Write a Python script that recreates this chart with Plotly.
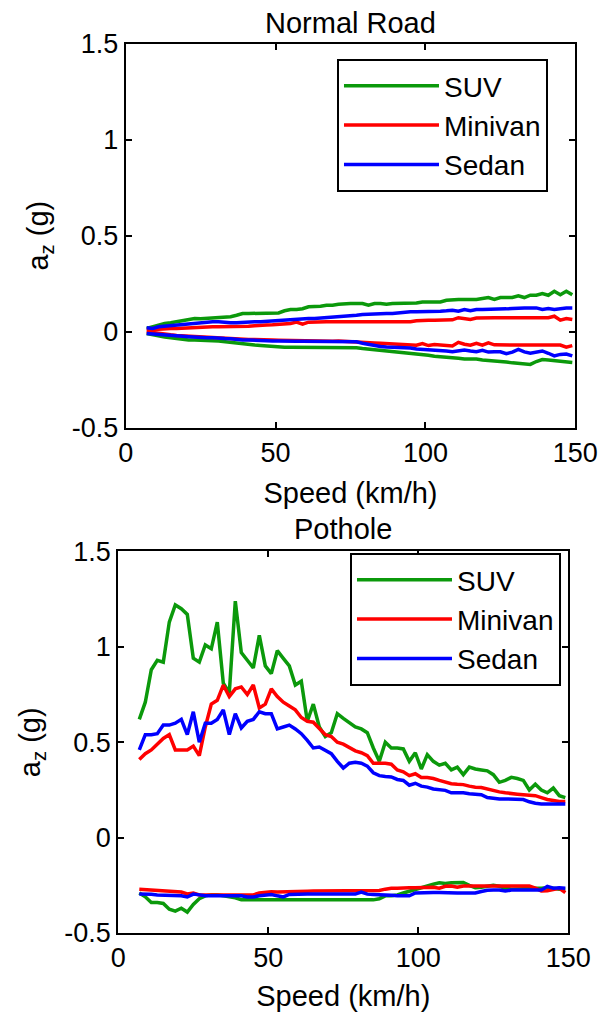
import plotly.graph_objects as go

# speed grid (km/h), shared by every curve
speed = [7, 9, 11, 13, 15, 17, 19, 21, 23, 25,
         27, 29, 31, 33, 35, 37, 39, 41, 43, 45,
         47, 49, 51, 53, 55, 57, 59, 61, 63, 65,
         67, 69, 71, 73, 75, 77, 79, 81, 83, 85,
         87, 89, 91, 93, 95, 97, 99, 101, 103, 105,
         107, 109, 111, 113, 115, 117, 119, 121, 123, 125,
         127, 129, 131, 133, 135, 137, 139, 141, 143, 145,
         147, 149]

# ---- Normal Road: max / min vertical acceleration (g)
normal_suv_max = [.017, .026, .035, .043, .047, .052, .060, .064, .069, .067,
                  .069, .074, .074, .074, .078, .086, .095, .095, .095, .095,
                  .095, .095, .098, .109, .116, .116, .120, .130, .130, .133,
                  .138, .138, .143, .147, .147, .147, .147, .138, .147, .147,
                  .143, .147, .147, .147, .147, .150, .155, .155, .155, .155,
                  .164, .168, .168, .168, .168, .168, .173, .178, .168, .178,
                  .178, .178, .187, .178, .190, .190, .199, .190, .211, .193,
                  .211, .193]
normal_suv_min = [-.009, -.016, -.022, -.028, -.031, -.035, -.040, -.043, -.043, -.043,
                  -.043, -.047, -.048, -.052, -.054, -.057, -.060, -.064, -.069, -.071,
                  -.074, -.078, -.081, -.081, -.081, -.081, -.081, -.081, -.081, -.081,
                  -.081, -.081, -.080, -.080, -.081, -.083, -.087, -.090, -.092, -.095,
                  -.097, -.100, -.103, -.107, -.110, -.114, -.118, -.122, -.128, -.130,
                  -.130, -.133, -.138, -.142, -.141, -.142, -.147, -.149, -.152, -.155,
                  -.158, -.162, -.165, -.168, -.170, -.155, -.145, -.147, -.150, -.155,
                  -.157, -.160]
normal_minivan_max = [.009, .012, .014, .016, .017, .017, .019, .021, .022, .022,
                      .024, .026, .026, .026, .026, .026, .026, .028, .031, .035,
                      .035, .036, .038, .040, .043, .050, .040, .050, .052, .052,
                      .052, .052, .052, .052, .052, .052, .052, .052, .052, .052,
                      .052, .052, .052, .052, .052, .057, .060, .060, .060, .060,
                      .060, .062, .073, .068, .064, .071, .073, .073, .073, .073,
                      .073, .073, .073, .073, .073, .073, .073, .073, .081, .060,
                      .069, .064]
normal_minivan_min = [.000, -.005, -.009, -.012, -.016, -.019, -.021, -.024, -.026, -.027,
                      -.029, -.030, -.031, -.033, -.035, -.036, -.038, -.040, -.041, -.043,
                      -.043, -.043, -.044, -.045, -.045, -.045, -.046, -.046, -.047, -.048,
                      -.049, -.050, -.048, -.049, -.050, -.052, -.054, -.056, -.058, -.060,
                      -.062, -.064, -.066, -.068, -.069, -.070, -.062, -.072, -.066, -.070,
                      -.074, -.074, -.055, -.065, -.070, -.060, -.070, -.058, -.068, -.069,
                      -.069, -.069, -.069, -.069, -.069, -.069, -.069, -.069, -.069, -.069,
                      -.080, -.072]
normal_sedan_max = [.021, .017, .026, .029, .031, .035, .038, .043, .043, .047,
                    .048, .052, .052, .048, .047, .047, .050, .052, .052, .052,
                    .054, .057, .060, .064, .066, .066, .067, .069, .069, .071,
                    .074, .074, .076, .078, .081, .086, .090, .092, .095, .095,
                    .095, .095, .098, .104, .104, .104, .104, .104, .104, .107,
                    .109, .112, .107, .116, .109, .116, .116, .116, .116, .117,
                    .119, .121, .124, .124, .124, .124, .116, .121, .116, .121,
                    .124, .124]
normal_sedan_min = [-.009, -.012, -.016, -.019, -.021, -.022, -.024, -.026, -.029, -.031,
                    -.031, -.031, -.035, -.035, -.036, -.040, -.043, -.043, -.045, -.047,
                    -.048, -.048, -.048, -.050, -.050, -.050, -.050, -.050, -.049, -.049,
                    -.048, -.048, -.048, -.048, -.048, -.052, -.060, -.066, -.074, -.077,
                    -.080, -.081, -.081, -.081, -.085, -.090, -.092, -.093, -.094, -.095,
                    -.100, -.104, -.099, -.095, -.100, -.104, -.097, -.106, -.104, -.104,
                    -.114, -.106, -.092, -.105, -.112, -.104, -.100, -.112, -.126, -.118,
                    -.116, -.126]

# ---- Pothole: max / min vertical acceleration (g)
pothole_suv_max = [.62, .71, .88, .93, .92, 1.13, 1.22, 1.20, 1.17, .94,
                   .92, 1.01, .99, 1.13, .81, .76, 1.24, .97, .93, .89,
                   1.06, .90, .86, .98, .94, .90, .80, .82, .61, .70,
                   .58, .53, .55, .65, .625, .60, .58, .57, .55, .47,
                   .40, .50, .47, .47, .465, .40, .445, .36, .435, .40,
                   .38, .39, .355, .37, .33, .37, .36, .355, .35, .33,
                   .29, .30, .316, .31, .30, .25, .28, .25, .235, .26,
                   .22, .21]
pothole_suv_min = [-.29, -.31, -.34, -.34, -.345, -.375, -.385, -.37, -.39, -.35,
                   -.32, -.305, -.30, -.30, -.305, -.31, -.315, -.325, -.326, -.326,
                   -.326, -.326, -.326, -.326, -.326, -.326, -.326, -.326, -.326, -.326,
                   -.326, -.326, -.326, -.326, -.326, -.326, -.326, -.326, -.326, -.326,
                   -.32, -.305, -.305, -.30, -.29, -.28, -.27, -.26, -.25, -.244,
                   -.237, -.24, -.237, -.235, -.235, -.25, -.262, -.26, -.255, -.25,
                   -.255, -.265, -.27, -.268, -.265, -.265, -.265, -.265, -.262, -.265,
                   -.27, -.27]
pothole_minivan_max = [.41, .44, .46, .49, .52, .54, .46, .46, .46, .48,
                       .43, .58, .70, .72, .80, .74, .78, .79, .75, .80,
                       .68, .70, .78, .74, .71, .69, .67, .63, .61, .605,
                       .57, .54, .53, .50, .49, .47, .455, .445, .43, .39,
                       .39, .39, .385, .355, .345, .325, .335, .315, .315, .31,
                       .30, .29, .283, .28, .278, .27, .264, .263, .255, .245,
                       .24, .235, .23, .228, .225, .222, .22, .21, .20, .195,
                       .19, .19]
pothole_minivan_min = [-.27, -.272, -.275, -.275, -.277, -.278, -.28, -.285, -.295, -.29,
                       -.30, -.30, -.30, -.30, -.30, -.30, -.30, -.30, -.30, -.30,
                       -.29, -.285, -.283, -.285, -.285, -.285, -.283, -.282, -.281, -.28,
                       -.28, -.28, -.28, -.279, -.279, -.279, -.279, -.278, -.278, -.277,
                       -.277, -.27, -.265, -.265, -.262, -.262, -.262, -.262, -.26, -.26,
                       -.265, -.255, -.253, -.26, -.253, -.253, -.253, -.253, -.253, -.253,
                       -.253, -.253, -.253, -.253, -.253, -.253, -.265, -.279, -.278, -.272,
                       -.266, -.288]
pothole_sedan_max = [.46, .54, .54, .545, .59, .59, .60, .62, .54, .66,
                     .50, .60, .60, .62, .67, .54, .65, .575, .61, .62,
                     .66, .65, .65, .57, .58, .59, .57, .545, .51, .47,
                     .475, .46, .44, .40, .365, .39, .395, .39, .375, .34,
                     .325, .32, .318, .305, .30, .275, .285, .27, .265, .255,
                     .25, .248, .235, .235, .235, .23, .228, .225, .21, .205,
                     .203, .203, .203, .203, .20, .188, .18, .177, .177, .177,
                     .177, .177]
pothole_sedan_min = [-.295, -.295, -.297, -.30, -.302, -.302, -.302, -.305, -.311, -.296,
                     -.30, -.305, -.305, -.305, -.305, -.305, -.305, -.305, -.311, -.311,
                     -.305, -.30, -.298, -.305, -.311, -.298, -.296, -.296, -.296, -.296,
                     -.296, -.296, -.296, -.296, -.296, -.296, -.296, -.285, -.296, -.298,
                     -.298, -.30, -.302, -.305, -.305, -.305, -.29, -.288, -.288, -.288,
                     -.288, -.29, -.29, -.29, -.29, -.29, -.29, -.282, -.276, -.275,
                     -.275, -.28, -.275, -.275, -.275, -.275, -.275, -.275, -.255, -.265,
                     -.262, -.265]

vehicles = ['SUV', 'Minivan', 'Sedan']
colors = {'SUV': '#0b990b', 'Minivan': '#ff0000', 'Sedan': '#0000ff'}

normal = {'SUV': (normal_suv_max, normal_suv_min),
          'Minivan': (normal_minivan_max, normal_minivan_min),
          'Sedan': (normal_sedan_max, normal_sedan_min)}
pothole = {'SUV': (pothole_suv_max, pothole_suv_min),
           'Minivan': (pothole_minivan_max, pothole_minivan_min),
           'Sedan': (pothole_sedan_max, pothole_sedan_min)}

y_ticks = [-0.5, 0, 0.5, 1, 1.5]
y_ticktext = ['-0.5', '0', '0.5', '1', '1.5']
x_ticks = [0, 50, 100, 150]

FONT = 'Liberation Sans, Arial, sans-serif'

fig = go.Figure()

# each vehicle: upper (max) and lower (min) envelope, one legend entry
for data, xa, ya, leg, tag in [(normal, 'x', 'y', 'legend', 'n'),
                               (pothole, 'x2', 'y2', 'legend2', 'p')]:
    for v in vehicles:
        vmax, vmin = data[v]
        for i, vals in enumerate([vmax, vmin]):
            fig.add_trace(go.Scatter(
                x=speed, y=vals, mode='lines', name=v,
                line=dict(color=colors[v], width=3.5),
                xaxis=xa, yaxis=ya, legend=leg,
                legendgroup=tag + v, showlegend=(i == 0)))

axis_common = dict(showline=True, linewidth=2, linecolor='black', mirror='ticks',
                   ticks='inside', ticklen=6, tickwidth=1.5, tickcolor='black',
                   showgrid=False, zeroline=False, automargin=False,
                   tickfont=dict(family=FONT, size=27, color='black'))

xtitle = dict(text='Speed (km/h)', font=dict(family=FONT, size=29, color='black'))
ytitle = dict(text='a<sub>z</sub> (g)', font=dict(family=FONT, size=29, color='black'))

legend_common = dict(xanchor='left', yanchor='top', bgcolor='white',
                     bordercolor='black', borderwidth=2, traceorder='grouped',
                     tracegroupgap=0, itemwidth=95,
                     font=dict(family=FONT, size=28, color='black'))

fig.update_layout(
    width=601, height=1004,
    margin=dict(l=52, r=20, t=32, b=40),
    paper_bgcolor='white', plot_bgcolor='white',
    xaxis=dict(domain=[0.1242, 0.9741], range=[0, 150], tickvals=x_ticks,
               anchor='y', title=xtitle, **axis_common),
    yaxis=dict(domain=[0.5839, 0.9962], range=[-0.5, 1.5], tickvals=y_ticks,
               ticktext=y_ticktext, anchor='x', title=ytitle, **axis_common),
    xaxis2=dict(domain=[0.1102, 0.9609], range=[0, 150], tickvals=x_ticks,
                anchor='y2', title=xtitle, **axis_common),
    yaxis2=dict(domain=[0.0418, 0.4512], range=[-0.5, 1.5], tickvals=y_ticks,
                ticktext=y_ticktext, anchor='x2', title=ytitle, **axis_common),
    legend=dict(x=0.5236, y=0.9796, **legend_common),
    legend2=dict(x=0.5482, y=0.4496, **legend_common),
    annotations=[
        dict(text='Normal Road', x=(0.1242 + 0.9741) / 2, y=0.9962,
             xref='paper', yref='paper', xanchor='center', yanchor='bottom',
             yshift=3, showarrow=False,
             font=dict(family=FONT, size=29, color='black')),
        dict(text='Pothole', x=(0.1102 + 0.9609) / 2, y=0.4512,
             xref='paper', yref='paper', xanchor='center', yanchor='bottom',
             yshift=4, showarrow=False,
             font=dict(family=FONT, size=29, color='black')),
    ],
)

fig.write_html('out.html')
